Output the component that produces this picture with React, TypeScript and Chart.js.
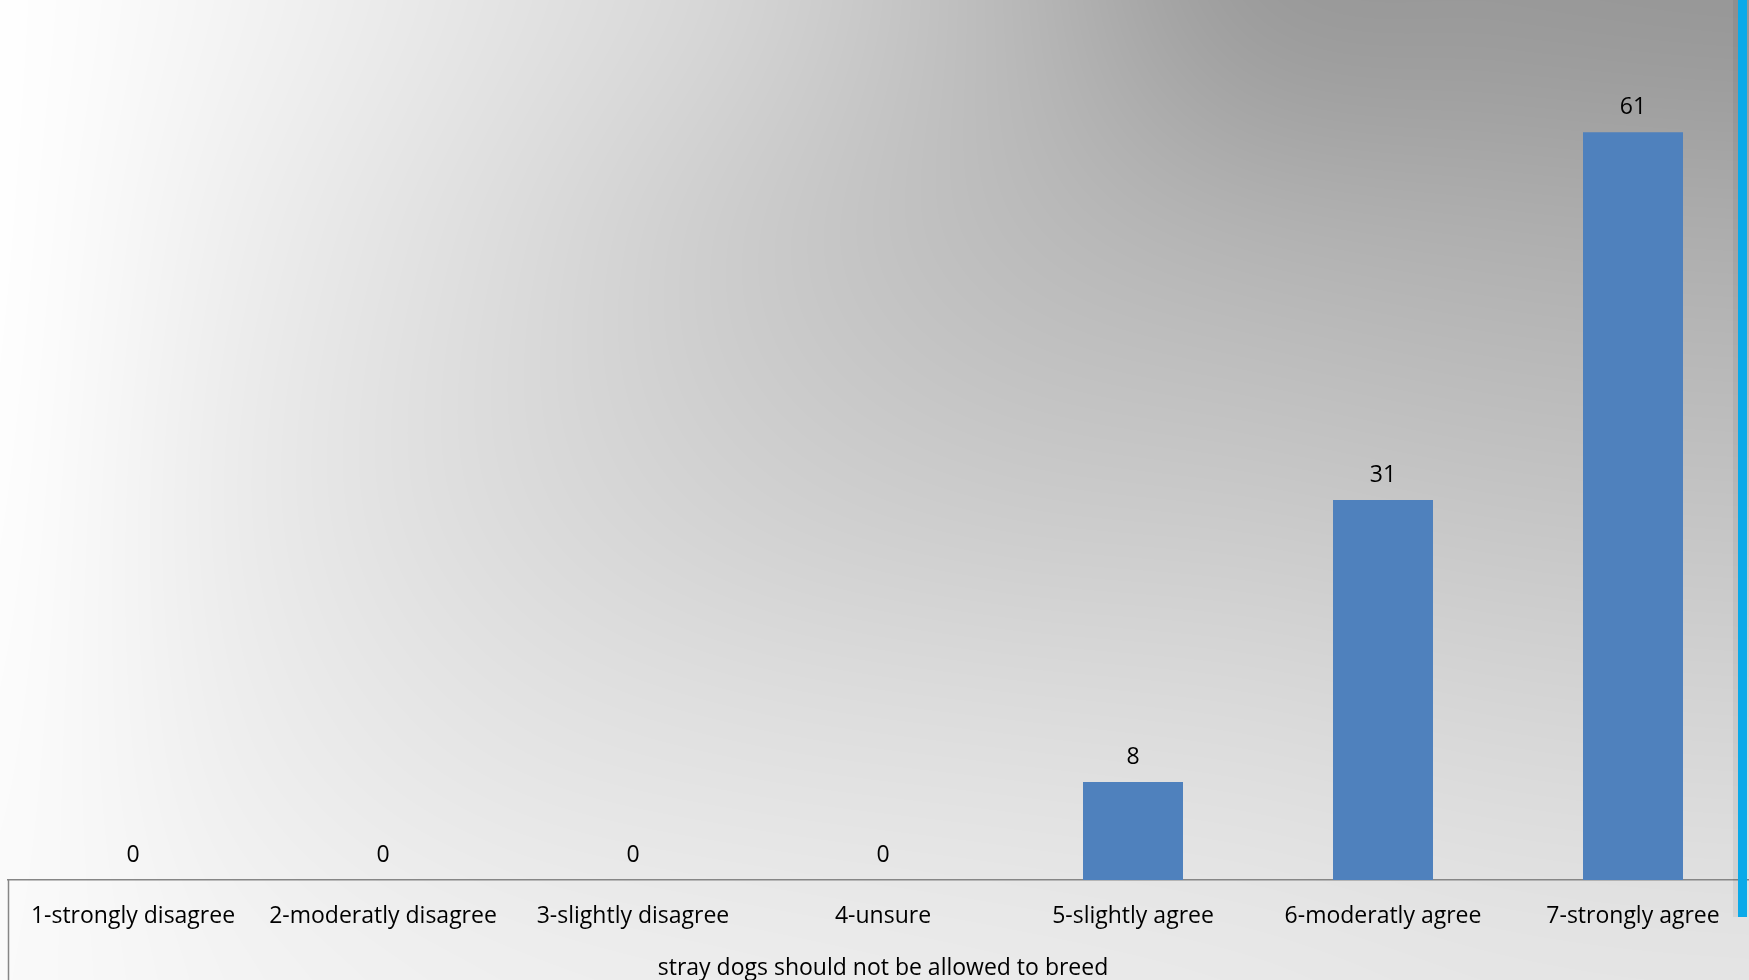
import React, { useEffect, useRef } from "react";
import { Chart, registerables } from "chart.js";

Chart.register(...registerables);

// ---- data ----
const categories = [
  "1-strongly disagree",
  "2-moderatly disagree",
  "3-slightly disagree",
  "4-unsure",
  "5-slightly agree",
  "6-moderatly agree",
  "7-strongly agree",
];
const counts = [0, 0, 0, 0, 8, 31, 61];
const axisTitle = "stray dogs should not be allowed to breed";
const yMax = 70;

// background shading samples (gray levels), 8 columns x 5 rows
const bgRows = [
  [255, 243, 228, 212, 186, 154, 152, 150],
  [255, 237, 220, 202, 188, 180, 176, 174],
  [254, 234, 219, 208, 202, 200, 196, 194],
  [252, 237, 228, 224, 222, 220, 216, 214],
  [250, 243, 239, 237, 235, 233, 230, 229],
];

const FONT = "'Open Sans', sans-serif";
const FONT_SIZE = 23;
const CANVAS_W = 1770;
const CANVAS_H = 980;

const backgroundPlugin = {
  id: "bgShade",
  beforeDraw(chart: any) {
    const ctx = chart.ctx as CanvasRenderingContext2D;
    const cols = bgRows[0].length;
    const rows = bgRows.length;
    const small = document.createElement("canvas");
    small.width = cols;
    small.height = rows;
    const sctx = small.getContext("2d")!;
    const img = sctx.createImageData(cols, rows);
    for (let r = 0; r < rows; r++) {
      for (let c = 0; c < cols; c++) {
        const i = (r * cols + c) * 4;
        const g = bgRows[r][c];
        img.data[i] = g;
        img.data[i + 1] = g;
        img.data[i + 2] = g;
        img.data[i + 3] = 255;
      }
    }
    sctx.putImageData(img, 0, 0);
    const cw = 1750 / (cols - 1);
    const rh = 980 / (rows - 1);
    ctx.save();
    ctx.imageSmoothingEnabled = true;
    (ctx as any).imageSmoothingQuality = "high";
    ctx.drawImage(small, -cw / 2, -rh / 2, cols * cw, rows * rh);
    ctx.restore();
  },
};

const decorPlugin = {
  id: "decor",
  afterDatasetsDraw(chart: any) {
    const ctx = chart.ctx as CanvasRenderingContext2D;
    const meta = chart.getDatasetMeta(0);
    const data = chart.data.datasets[0].data as number[];
    ctx.save();
    ctx.font = `${FONT_SIZE}px ${FONT}`;
    ctx.fillStyle = "#000000";
    ctx.textAlign = "center";
    ctx.textBaseline = "alphabetic";
    meta.data.forEach((el: any, i: number) => {
      ctx.fillText(String(data[i]), el.x, el.y - 18);
    });
    ctx.restore();
  },
  afterDraw(chart: any) {
    const ctx = chart.ctx as CanvasRenderingContext2D;
    const { left, bottom } = chart.chartArea;
    ctx.save();
    ctx.strokeStyle = "#868686";
    ctx.lineWidth = 1.5;
    ctx.beginPath();
    ctx.moveTo(left + 0.5, bottom);
    ctx.lineTo(left + 0.5, chart.height);
    ctx.stroke();
    // slide edge accent
    ctx.fillStyle = "rgba(0,0,0,0.06)";
    ctx.fillRect(1733, 0, 5, 917);
    ctx.fillStyle = "#0AAAE9";
    ctx.fillRect(1738, 0, 9, 917);
    ctx.restore();
  },
};

export default function App() {
  const ref = useRef<HTMLCanvasElement | null>(null);

  useEffect(() => {
    if (!ref.current) return;
    const chart = new Chart(ref.current, {
      type: "bar",
      data: {
        labels: categories,
        datasets: [
          {
            data: counts,
            backgroundColor: "#4F81BD",
            borderWidth: 0,
            barPercentage: 0.4,
            categoryPercentage: 1,
          },
        ],
      },
      options: {
        responsive: false,
        animation: false,
        devicePixelRatio: 1,
        layout: { padding: { left: 8, right: 12, top: 22, bottom: 0 } },
        plugins: {
          legend: { display: false },
          tooltip: { enabled: false },
        },
        scales: {
          x: {
            grid: { display: false, drawTicks: false, tickLength: 0 },
            border: { display: true, color: "#868686", width: 1.5 },
            ticks: {
              color: "#000000",
              font: { family: FONT, size: FONT_SIZE },
              padding: 23,
              maxRotation: 0,
              autoSkip: false,
            },
            title: {
              display: true,
              text: axisTitle,
              color: "#000000",
              font: { family: FONT, size: FONT_SIZE, lineHeight: 1 },
              padding: { top: 0, bottom: 0 },
            },
            afterFit: (s: any) => {
              s.height = 100;
            },
          },
          y: { display: false, min: 0, max: yMax },
        },
      },
      plugins: [backgroundPlugin, decorPlugin],
    } as any);
    return () => chart.destroy();
  }, []);

  return (
    <div
      style={{
        position: "fixed",
        left: 0,
        top: 0,
        width: 1749,
        height: 980,
        overflow: "hidden",
      }}
    >
      <canvas
        ref={ref}
        width={CANVAS_W}
        height={CANVAS_H}
        style={{ display: "block", width: CANVAS_W, height: CANVAS_H }}
      />
    </div>
  );
}
